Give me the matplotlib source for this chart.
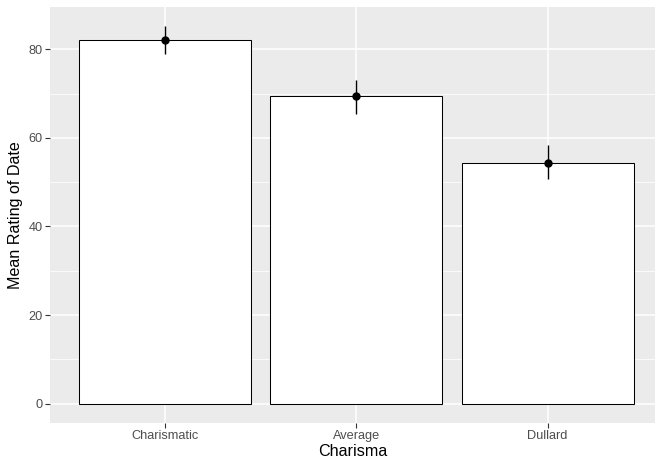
import matplotlib.pyplot as plt
import numpy as np

plt.rcParams['font.family'] = ['Liberation Sans', 'DejaVu Sans']

# Mean rating of date by charisma, with error bar limits
charisma = ["Charismatic", "Average", "Dullard"]
mean_rating = [82.2, 69.4, 54.4]
err_low = [78.9, 65.3, 50.8]
err_high = [85.3, 73.1, 58.4]

fig = plt.figure(figsize=(6.55, 4.59), dpi=100)
ax = fig.add_axes([50.3 / 655, 1 - 422.5 / 459, 1 - 50.3 / 655, (422.5 - 7) / 459])

x = np.arange(1, len(charisma) + 1)

# ggplot-like panel
ax.set_facecolor('#EBEBEB')
for s in ax.spines.values():
    s.set_visible(False)
ax.set_axisbelow(True)
ax.set_yticks([0, 20, 40, 60, 80])
ax.set_yticks([10, 30, 50, 70], minor=True)
ax.grid(True, which='major', color='white', linewidth=1.1)
ax.grid(True, which='minor', axis='y', color='white', linewidth=0.55)

ax.bar(x, mean_rating, width=0.9, color='white', edgecolor='black', linewidth=0.75, zorder=2)
ax.vlines(x, err_low, err_high, color='black', linewidth=1.0, zorder=3)
ax.plot(x, mean_rating, 'o', color='black', markersize=5, zorder=4)

ymax = max(err_high)
ax.set_ylim(-0.05 * ymax, 1.05 * ymax)
ax.set_xlim(0.4, 0.4 + (655 - 50.3) / 191.3)
ax.set_xticks(x)
ax.set_xticklabels(charisma)

ax.tick_params(axis='both', which='major', length=3.5, width=0.8, color='#333333',
               labelcolor='#4D4D4D', labelsize=9.2, pad=2)
ax.tick_params(axis='both', which='minor', length=0)

ax.set_xlabel("Charisma", fontsize=11.6, labelpad=1)
ax.set_ylabel("Mean Rating of Date", fontsize=11.6, labelpad=4)

fig.savefig("out.png", dpi=100)
